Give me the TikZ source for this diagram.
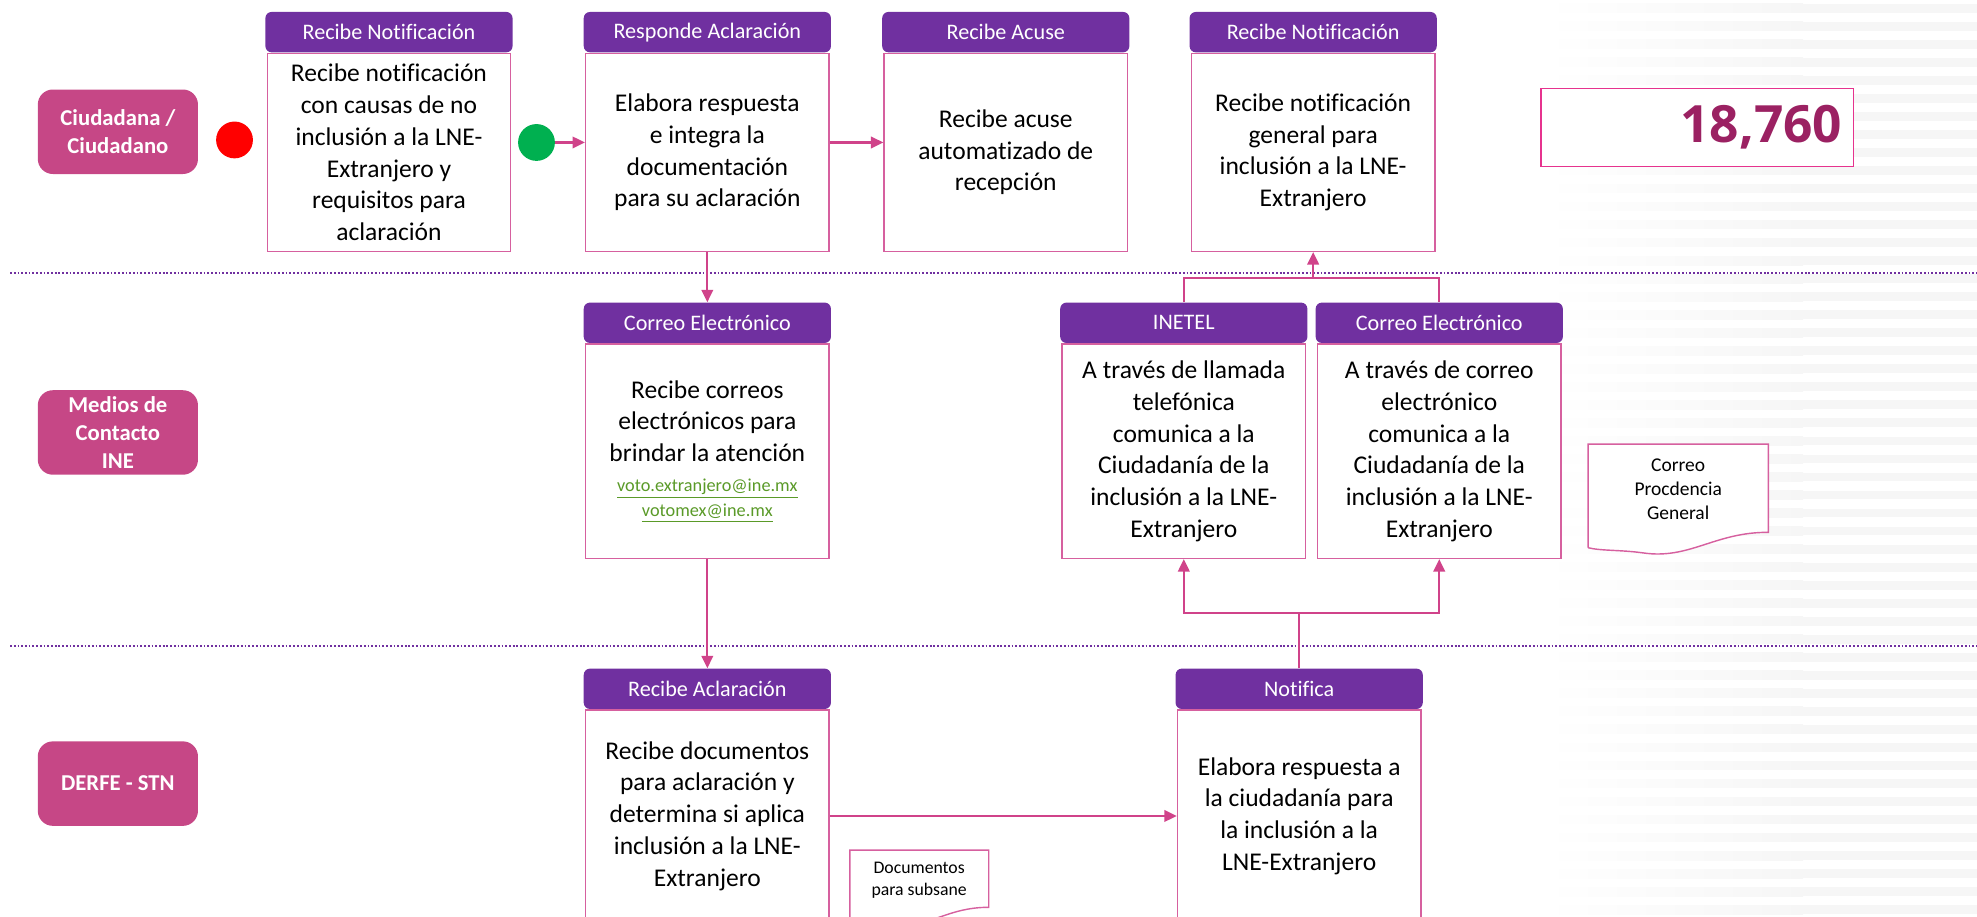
\documentclass[tikz,border=0pt]{standalone}
\usepackage{fontspec}
\setmainfont{Carlito}[Ligatures=CommonOff]
\newfontfamily\numfont{Open Sans}
\usetikzlibrary{arrows.meta,positioning}
\definecolor{morado}{HTML}{7030A0}
\definecolor{rosa}{HTML}{C64786}
\definecolor{borde}{HTML}{D6609F}
\definecolor{flecha}{HTML}{D0438A}
\definecolor{cifra}{HTML}{9B2162}
\definecolor{marco}{HTML}{E6338E}
\definecolor{liga}{HTML}{5A9A28}
\definecolor{verde}{HTML}{00B050}
\tikzset{>={Triangle[length=7pt,width=6.5pt]},
  carril/.style={fill=rosa,rounded corners=8.5pt,text=white,align=center,inner sep=0pt,
    minimum width=3.175cm,minimum height=1.675cm,font=\fontsize{12.8}{15.6}\selectfont\bfseries},
  titulo/.style={fill=morado,rounded corners=3.5pt,text=white,inner sep=0pt,
    minimum width=4.9cm,minimum height=0.8cm,font=\fontsize{12.5}{15}\selectfont},
  cuerpo/.style={draw=borde,line width=0.8pt,fill=white,align=center,inner sep=0pt,
    minimum width=4.825cm,font=\fontsize{14.4}{17.9}\selectfont},
  hoja/.style={draw=borde,line width=0.8pt,fill=white},
  nota/.style={align=center,inner sep=0pt,font=\fontsize{11}{13.5}\selectfont},
  flujo/.style={->,draw=flecha,line width=1.2pt},
  linea/.style={draw=flecha,line width=1.2pt},
  separa/.style={morado,line width=1.2pt,dash pattern=on 1pt off 1.1pt},
  punto/.style={circle,inner sep=0pt,minimum size=0.73cm}}
\newcommand{\correo}[1]{{\fontsize{10.3}{12.6}\selectfont\color{liga}\underline{#1}}}

\begin{document}
\begin{tikzpicture}[x=0.025cm,y=-0.025cm]
    \useasboundingbox (0,0) rectangle (1568,727);
    \clip (0,0) rectangle (1568,727);
    \foreach \y in {3,17.3,...,727} {
      \fill [left color=white,right color=black!3.5] (1225,\y) rectangle (1430,\y+7);
      \fill [black!3.5] (1430,\y) rectangle (1568,\y+7);
    }
    \draw [separa] (8,216.8) -- (1568,216.8);
    \draw [separa] (8,512.4) -- (1568,512.4);

    \node [carril] (ciu) at (93.5,104.5) {Ciudadana /\\Ciudadano};
    \node [carril] (med) at (93.5,343) {Medios de\\Contacto\\INE};
    \node [carril] (der) at (93.5,621.5) {DERFE - STN};

    \node [punto,fill=red] (fin) at (186,111) {};
    \node [punto,fill=verde] (ini) at (425.5,113) {};

    \node [titulo] (t1) at (308.5,25.5) {Recibe Notificación};
    \node [cuerpo,minimum height=3.925cm,below=0pt of t1] (c1) {Recibe notificación\\con causas de no\\inclusión a la LNE-\\Extranjero y\\requisitos para\\aclaración};
    \node [titulo] (t2) at (561,25.5) {Responde Aclaración};
    \node [cuerpo,minimum height=3.925cm,below=0pt of t2] (c2) {Elabora respuesta\\e integra la\\documentación\\para su aclaración};
    \node [titulo] (t3) at (797.7,25.5) {Recibe Acuse};
    \node [cuerpo,minimum height=3.925cm,below=0pt of t3] (c3) {Recibe acuse\\automatizado de\\recepción};
    \node [titulo] (t4) at (1041.5,25.5) {Recibe Notificación};
    \node [cuerpo,minimum height=3.925cm,below=0pt of t4] (c4) {Recibe notificación\\general para\\inclusión a la LNE-\\Extranjero};

    \node [titulo] (t5) at (561,256) {Correo Electrónico};
    \node [cuerpo,minimum height=4.25cm,below=0pt of t5] (c5) {Recibe correos\\electrónicos para\\brindar la atención\\[-1pt]\correo{voto.extranjero@ine.mx}\\[-4pt]\correo{votomex@ine.mx}};
    \node [titulo] (t6) at (938.9,256) {INETEL};
    \node [cuerpo,minimum height=4.25cm,below=0pt of t6] (c6) {A través de llamada\\telefónica\\comunica a la\\Ciudadanía de la\\inclusión a la LNE-\\Extranjero};
    \node [titulo] (t7) at (1141.5,256) {Correo Electrónico};
    \node [cuerpo,minimum height=4.25cm,below=0pt of t7] (c7) {A través de correo\\electrónico\\comunica a la\\Ciudadanía de la\\inclusión a la LNE-\\Extranjero};

    \node [titulo] (t8) at (561,546.3) {Recibe Aclaración};
    \node [cuerpo,minimum height=4.2cm,below=0pt of t8] (c8) {Recibe documentos\\para aclaración y\\determina si aplica\\inclusión a la LNE-\\Extranjero};
    \node [titulo] (t9) at (1030.4,546.3) {Notifica};
    \node [cuerpo,minimum height=4.2cm,below=0pt of t9] (c9) {Elabora respuesta a\\la ciudadanía para\\la inclusión a la\\LNE-Extranjero};

    \draw [hoja] (1259.5,434.4) -- (1259.5,352.2) -- (1402.5,352.2) -- (1402.5,422.2) .. controls (1360,422) and (1340,444) .. (1303,438.5) .. controls (1285,436) and (1270,437) .. (1259.5,434.4);
    \node [nota] (n1) at (1331,388) {Correo\\Procdencia\\General};
    \draw [hoja] (674,740) -- (674,674.2) -- (784.2,674.2) -- (784.2,719.6) .. controls (752,719.6) and (738,735) .. (712,734) -- (674,740);
    \node [nota,font=\fontsize{10}{12.1}\selectfont] (n2) at (729,698) {Documentos\\para subsane};

    \node [draw=marco,line width=0.9pt,fill=white,minimum width=6.2cm,minimum height=1.55cm,inner sep=0pt,
      text width=5.75cm,align=right,text=cifra,font=\numfont\bfseries\fontsize{29}{32}\selectfont] (total) at (1346,101.2) {18,760};

    \draw [flujo] (ini) -- (ini -| c2.west);
    \draw [flujo] (c2.east |- ini) -- (ini -| c3.west);
    \draw [flujo] (c2.south) -- (t5.north);
    \draw [flujo] (c5.south) -- (t8.north);
    \coordinate (sube) at (1041.5,220.5);
    \draw [linea] (t6.north) |- (sube) -| (t7.north);
    \draw [flujo] (sube) -- (sube |- c4.south);
    \coordinate (baja) at (1030.4,486.5);
    \draw [linea] (t9.north) -- (baja);
    \draw [flujo] (baja) -| (c6.south);
    \draw [flujo] (baja) -| (c7.south);
    \draw [flujo] (c8) -- (c9);
  \end{tikzpicture}
\end{document}
